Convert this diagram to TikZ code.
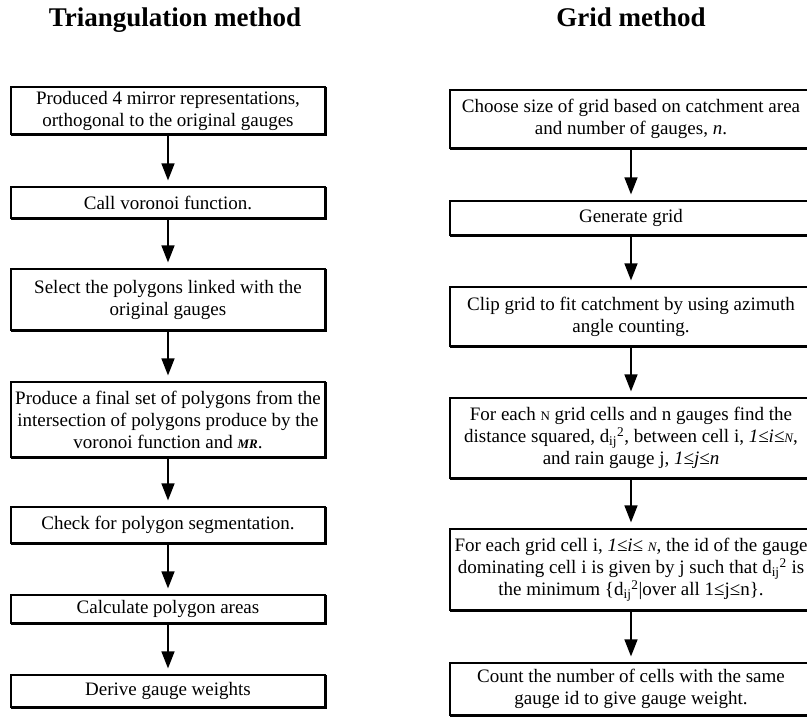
\documentclass[tikz,border=0pt]{standalone}
\usepackage{fontspec}
\setmainfont{Liberation Serif}
\usetikzlibrary{arrows.meta}
\newcommand{\dsq}{d\textsubscript{ij}\textsuperscript{2}}
\newcommand{\smN}{{\fontsize{13}{13}\selectfont N}}
\begin{document}
\begin{tikzpicture}[x=1pt,y=-1pt,
  stepbox/.style={draw=black,line width=1.2pt,fill=white,rectangle,inner sep=0pt,
    align=center,font=\fontsize{19}{22}\selectfont},
  lbox/.style={stepbox,minimum width=314pt},
  rbox/.style={stepbox,minimum width=362pt},
  flow/.style={line width=1.5pt,-{Triangle[width=13pt,length=17pt]},shorten >=6pt},
  shade/.style={line width=1.3pt},
  ttl/.style={font=\fontsize{27}{30}\selectfont\bfseries,inner sep=0pt,anchor=base}]
\useasboundingbox (0,0) rectangle (807,717);
\fill[white] (0,0) rectangle (807,717);

\node[ttl] (tl) at (175,27) {Triangulation method};
\node[ttl] (tr) at (631,27) {Grid method};

% left column
\node[lbox,minimum height=47pt] (l1) at (168,110.5) {Produced 4 mirror representations,\\orthogonal to the original gauges};
\node[lbox,minimum height=31pt] (l2) at (168,202.5) {Call voronoi function.};
\node[lbox,minimum height=61pt] (l3) at (168,299.5) {Select the polygons linked with the\\original gauges};
\node[lbox,minimum height=75pt] (l4) at (168,419.5) {Produce a final set of polygons from the\\intersection of polygons produce by the\\voronoi function and \textbf{\textit{\fontsize{13}{13}\selectfont MR}}.};
\node[lbox,minimum height=36pt] (l5) at (168,525) {Check for polygon segmentation.};
\node[lbox,minimum height=28pt] (l6) at (168,609) {Calculate polygon areas};
\node[lbox,minimum height=32pt] (l7) at (168,691) {Derive gauge weights};

% right column
\node[rbox,minimum height=58pt] (r1) at (631,119) {Choose size of grid based on catchment area\\and number of gauges, \textit{n}.};
\node[rbox,minimum height=34pt] (r2) at (631,218) {Generate grid};
\node[rbox,minimum height=59pt] (r3) at (631,316.5) {Clip grid to fit catchment by using azimuth\\angle counting.};
\node[rbox,minimum height=80pt] (r4) at (631,438) {For each \smN{} grid cells and n gauges find the\\distance squared, \dsq, between cell i, \textit{1≤i≤\smN},\\and rain gauge j, \textit{1≤j≤n}};
\node[rbox,minimum height=81pt] (r5) at (631,569.5) {For each grid cell i, \textit{1≤i≤ \smN}, the id of the gauge\\dominating cell i is given by j such that \dsq{} is\\the minimum \{\dsq|over all 1≤j≤n\}.};
\node[rbox,minimum height=52pt] (r6) at (631,689) {Count the number of cells with the same\\gauge id to give gauge weight.};

% thicker right/bottom edges
\foreach \n in {l1,l2,l3,l4,l5,l6,l7,r1,r2,r3,r4,r5,r6}
  \draw[shade] ([xshift=1pt,yshift=-1pt]\n.south west) -| ([xshift=1pt,yshift=-1pt]\n.north east);

\foreach \a/\b in {l1/l2,l2/l3,l3/l4,l4/l5,l5/l6,l6/l7,r1/r2,r2/r3,r3/r4,r4/r5,r5/r6}
  \draw[flow] ([yshift=-1.5pt]\a.south) -- (\b.north);
\end{tikzpicture}
\end{document}
